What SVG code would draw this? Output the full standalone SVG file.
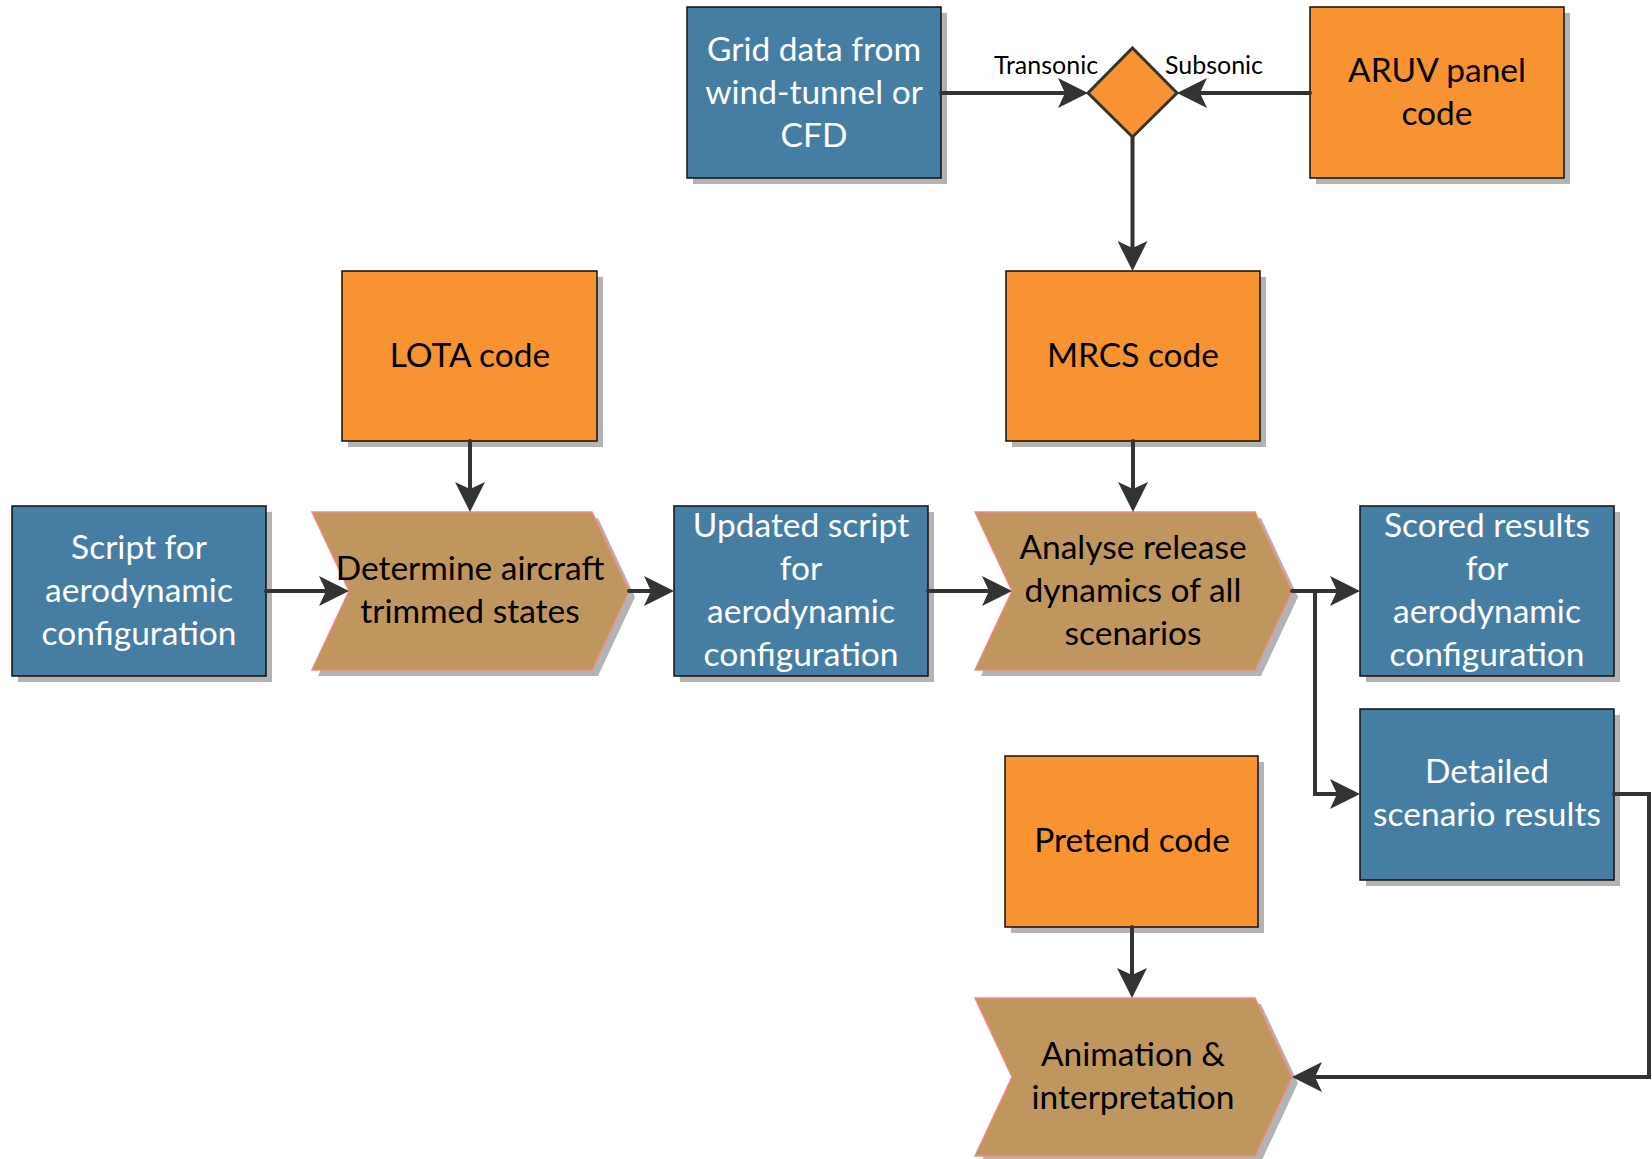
<svg xmlns="http://www.w3.org/2000/svg" width="1652" height="1159" viewBox="0 0 1652 1159">
<defs>
<style>
.shadow{fill:#b3b3b3;}
.blue{fill:#467ea3;stroke:#111;stroke-width:1.5;}
.orange{fill:#f79431;stroke:#111;stroke-width:1.5;}
.tan{fill:#be965e;stroke:#f08a84;stroke-width:1.5;}
.diamond{fill:#f79431;stroke:#333;stroke-width:3;}
text{font-family:Lato,"Open Sans","Liberation Sans",sans-serif;font-size:33.5px;text-anchor:middle;}
.wt{fill:#fff;}
.bt{fill:#000;}
.lbl{font-size:25px;fill:#000;}
.conn{fill:none;stroke:#333;stroke-width:4;stroke-linecap:round;stroke-linejoin:miter;}
</style>
<marker id="arr" viewBox="0 0 30 30" refX="22" refY="15" markerWidth="30" markerHeight="30" markerUnits="userSpaceOnUse" orient="auto">
<path d="M0,0 L30,15 L0,30 L7,15 z" fill="#333"/>
</marker>
</defs>
<rect width="1652" height="1159" fill="#fff"/>

<g id="grid-data">
<rect class="shadow" x="693" y="13" width="254" height="171"/>
<rect class="blue" x="687" y="7" width="254" height="171"/>
<text class="wt" x="814" y="61">Grid data from</text>
<text class="wt" x="814" y="104">wind-tunnel or</text>
<text class="wt" x="814" y="147">CFD</text>
</g>

<g id="decision">
<polygon class="diamond" points="1132.5,48 1177,93 1132.5,137 1088,93"/>
</g>

<g id="aruv">
<rect class="shadow" x="1316" y="13" width="254" height="171"/>
<rect class="orange" x="1310" y="7" width="254" height="171"/>
<text class="bt" x="1437" y="82">ARUV panel</text>
<text class="bt" x="1437" y="125">code</text>
</g>

<g id="lota">
<rect class="shadow" x="348" y="277" width="255" height="170"/>
<rect class="orange" x="342" y="271" width="255" height="170"/>
<text class="bt" x="470" y="367">LOTA code</text>
</g>

<g id="mrcs">
<rect class="shadow" x="1012" y="277" width="254" height="170"/>
<rect class="orange" x="1006" y="271" width="254" height="170"/>
<text class="bt" x="1133" y="367">MRCS code</text>
</g>

<g id="script">
<rect class="shadow" x="18" y="512" width="254" height="170"/>
<rect class="blue" x="12" y="506" width="254" height="170"/>
<text class="wt" x="139" y="559">Script for</text>
<text class="wt" x="139" y="602">aerodynamic</text>
<text class="wt" x="139" y="645">configuration</text>
</g>

<g id="determine">
<polygon class="shadow" points="318,518 598,518 635,597 598,676 318,676 355,597"/>
<polygon class="tan" points="312,512 592,512 629,591 592,670 312,670 349,591"/>
<text class="bt" x="470" y="580">Determine aircraft</text>
<text class="bt" x="470" y="623">trimmed states</text>
</g>

<g id="updated">
<rect class="shadow" x="680" y="512" width="254" height="170"/>
<rect class="blue" x="674" y="506" width="254" height="170"/>
<text class="wt" x="801" y="537">Updated script</text>
<text class="wt" x="801" y="580">for</text>
<text class="wt" x="801" y="623">aerodynamic</text>
<text class="wt" x="801" y="666">configuration</text>
</g>

<g id="analyse">
<polygon class="shadow" points="981,518 1261,518 1298,597 1261,676 981,676 1018,597"/>
<polygon class="tan" points="975,512 1255,512 1292,591 1255,670 975,670 1012,591"/>
<text class="bt" x="1133" y="559">Analyse release</text>
<text class="bt" x="1133" y="602">dynamics of all</text>
<text class="bt" x="1133" y="645">scenarios</text>
</g>

<g id="scored">
<rect class="shadow" x="1366" y="512" width="254" height="170"/>
<rect class="blue" x="1360" y="506" width="254" height="170"/>
<text class="wt" x="1487" y="537">Scored results</text>
<text class="wt" x="1487" y="580">for</text>
<text class="wt" x="1487" y="623">aerodynamic</text>
<text class="wt" x="1487" y="666">configuration</text>
</g>

<g id="detailed">
<rect class="shadow" x="1366" y="715" width="254" height="171"/>
<rect class="blue" x="1360" y="709" width="254" height="171"/>
<text class="wt" x="1487" y="783">Detailed</text>
<text class="wt" x="1487" y="826">scenario results</text>
</g>

<g id="pretend">
<rect class="shadow" x="1011" y="762" width="253" height="171"/>
<rect class="orange" x="1005" y="756" width="253" height="171"/>
<text class="bt" x="1132" y="852">Pretend code</text>
</g>

<g id="animation">
<polygon class="shadow" points="981,1004 1261,1004 1298,1083 1261,1162 981,1162 1018,1083"/>
<polygon class="tan" points="975,998 1255,998 1292,1077 1255,1156 975,1156 1012,1077"/>
<text class="bt" x="1133" y="1066">Animation &amp;</text>
<text class="bt" x="1133" y="1109">interpretation</text>
</g>

<g id="connectors">
<path class="conn" d="M941,93 H1080" marker-end="url(#arr)"/>
<path class="conn" d="M1310,93 H1185" marker-end="url(#arr)"/>
<path class="conn" d="M1132.5,137 V263" marker-end="url(#arr)"/>
<path class="conn" d="M470,441 V504" marker-end="url(#arr)"/>
<path class="conn" d="M1133,441 V504" marker-end="url(#arr)"/>
<path class="conn" d="M266,591 H341" marker-end="url(#arr)"/>
<path class="conn" d="M629,591 H666" marker-end="url(#arr)"/>
<path class="conn" d="M928,591 H1004" marker-end="url(#arr)"/>
<path class="conn" d="M1292,591 H1352" marker-end="url(#arr)"/>
<path class="conn" d="M1315,591 V794 H1352" marker-end="url(#arr)"/>
<path class="conn" d="M1614,794 H1649 V1077 H1300" marker-end="url(#arr)"/>
<path class="conn" d="M1132,927 V990" marker-end="url(#arr)"/>
<text class="lbl" x="1046" y="74">Transonic</text>
<text class="lbl" x="1214" y="74">Subsonic</text>
</g>
</svg>
